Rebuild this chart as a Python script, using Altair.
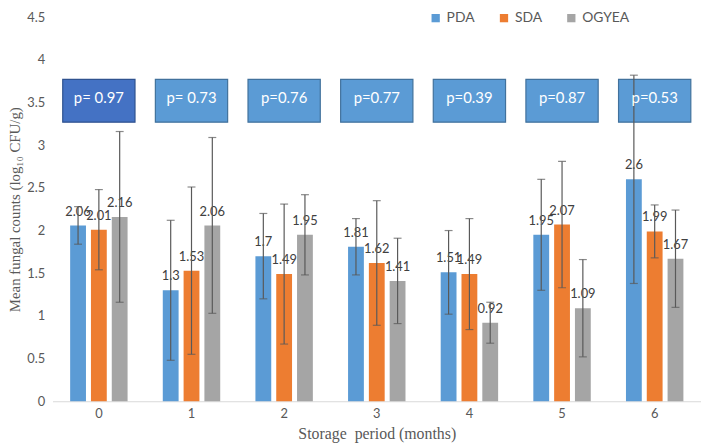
import altair as alt
import pandas as pd

months = ["0", "1", "2", "3", "4", "5", "6"]
series = ["PDA", "SDA", "OGYEA"]
pda = [2.06, 1.3, 1.7, 1.81, 1.51, 1.95, 2.6]
sda = [2.01, 1.53, 1.49, 1.62, 1.49, 2.07, 1.99]
ogyea = [2.16, 2.06, 1.95, 1.41, 0.92, 1.09, 1.67]
pda_err = [0.22, 0.82, 0.5, 0.33, 0.49, 0.65, 1.22]
sda_err = [0.47, 0.98, 0.82, 0.73, 0.65, 0.74, 0.31]
ogyea_err = [1.0, 1.03, 0.47, 0.5, 0.24, 0.57, 0.57]
p_labels = ["p= 0.97", "p= 0.73", "p=0.76", "p=0.77", "p=0.39", "p=0.87", "p=0.53"]
colors = ["#5B9BD5", "#ED7D31", "#A5A5A5"]

rows = []
for s, vals, errs in zip(series, [pda, sda, ogyea], [pda_err, sda_err, ogyea_err]):
    for m, v, e in zip(months, vals, errs):
        rows.append({"month": m, "series": s, "value": v,
                     "lo": round(v - e, 3), "hi": round(v + e, 3), "label": str(v)})
df = pd.DataFrame(rows)
dp = pd.DataFrame({"month": months, "p": p_labels})

FONT = "Lato"
SERIF = "Liberation Serif"

x_enc = alt.X("month:N", sort=months,
              scale=alt.Scale(paddingInner=0.38, paddingOuter=0.19),
              axis=alt.Axis(title="Storage\u00a0 period (months)", labelAngle=0, ticks=False,
                            domainColor="#D9D9D9", labelColor="#595959", labelFontSize=13,
                            labelFont=FONT, labelPadding=6, titleFont=SERIF,
                            titleFontSize=16, titleFontWeight="normal",
                            titleColor="#595959", titlePadding=6))
xo = alt.XOffset("series:N", sort=series, scale=alt.Scale(paddingInner=0.24, paddingOuter=0))

base = alt.Chart(df)

bars = base.mark_bar().encode(
    x=x_enc,
    xOffset=xo,
    y=alt.Y("value:Q", scale=alt.Scale(domain=[0, 4.5]),
            axis=alt.Axis(title="Mean fungal counts (log₁₀ CFU/g)",
                          values=[0, 0.5, 1, 1.5, 2, 2.5, 3, 3.5, 4, 4.5],
                          format=".1~f", grid=False, domain=False, ticks=False,
                          labelColor="#595959", labelFontSize=13, labelFont=FONT,
                          labelPadding=8, titleFont=SERIF, titleFontSize=15,
                          titleFontWeight="normal", titleColor="#595959", titlePadding=4)),
    color=alt.Color("series:N", sort=series,
                    scale=alt.Scale(domain=series, range=colors),
                    legend=alt.Legend(title=None, orient="none", direction="horizontal",
                                      legendX=380, legendY=-6, symbolType="square",
                                      symbolSize=70, labelFontSize=14, labelFont=FONT,
                                      labelColor="#595959", columnPadding=22,
                                      symbolStrokeWidth=0)),
)

boxes = alt.Chart(dp).mark_bar(width=73, strokeWidth=1.2).encode(
    x=alt.X("month:N", sort=months),
    y=alt.datum(3.27),
    y2=alt.datum(3.77),
    fill=alt.condition(alt.datum.month == "0", alt.value("#4472C4"), alt.value("#5B9BD5")),
    stroke=alt.condition(alt.datum.month == "0", alt.value("#2F528F"), alt.value("#41719C")),
)

box_text = alt.Chart(dp).mark_text(color="white", fontSize=15, font=FONT, dy=-3).encode(
    x=alt.X("month:N", sort=months),
    y=alt.datum(3.52),
    text="p:N",
)

rules = base.mark_rule(color="#595959", strokeWidth=1.2).encode(
    x=alt.X("month:N", sort=months), xOffset=xo, y="lo:Q", y2="hi:Q")
cap_lo = base.mark_tick(color="#595959", size=8, thickness=1.2).encode(
    x=alt.X("month:N", sort=months), xOffset=xo, y="lo:Q")
cap_hi = base.mark_tick(color="#595959", size=8, thickness=1.2).encode(
    x=alt.X("month:N", sort=months), xOffset=xo, y="hi:Q")

labels = base.mark_text(color="#404040", fontSize=13, font=FONT, baseline="middle", dy=-14).encode(
    x=alt.X("month:N", sort=months), xOffset=xo, y="value:Q", text="label:N")

chart = alt.layer(bars, boxes, labels, rules, cap_lo, cap_hi, box_text).properties(
    width=655, height=388,
    autosize=alt.AutoSizeParams(type="none"),
    padding={"left": 45, "top": 7, "right": 0, "bottom": 47},
).configure_view(stroke=None)

chart.save("out.html", embed_options={"renderer": "svg", "actions": False})
